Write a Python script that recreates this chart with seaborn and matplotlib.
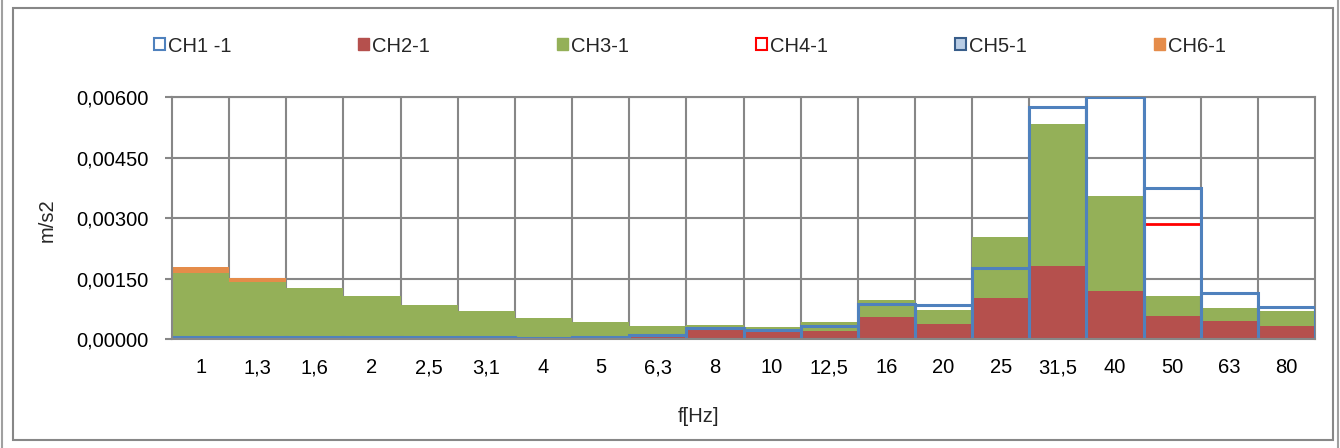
import matplotlib
matplotlib.use("Agg")
import matplotlib.pyplot as plt
from matplotlib.patches import Patch, Rectangle
from matplotlib.ticker import FuncFormatter, MultipleLocator
import numpy as np
import pandas as pd
import seaborn as sns

# third-octave bands
freqs = ["1", "1,3", "1,6", "2", "2,5", "3,1", "4", "5", "6,3", "8",
         "10", "12,5", "16", "20", "25", "31,5", "40", "50", "63", "80"]

ch1 = [0.00004, 0.00004, 0.00004, 0.00004, 0.00004, 0.00004, 0.00003, 0.00006, 0.00009, 0.00027,
       0.00022, 0.00031, 0.00087, 0.00084, 0.00177, 0.00576, 0.00600, 0.00375, 0.00113, 0.00079]
ch2 = [0.00001, 0.00001, 0.00001, 0.00001, 0.00001, 0.00001, 0.00001, 0.00002, 0.00007, 0.00023,
       0.00019, 0.00020, 0.00054, 0.00036, 0.00101, 0.00182, 0.00118, 0.00058, 0.00044, 0.00032]
ch3 = [0.00164, 0.00142, 0.00127, 0.00107, 0.00084, 0.00069, 0.00051, 0.00041, 0.00031, 0.00034,
       0.00030, 0.00041, 0.00097, 0.00072, 0.00254, 0.00534, 0.00354, 0.00107, 0.00077, 0.00070]
# only the 50 Hz band of CH4 is visible
ch4 = [np.nan] * 17 + [0.00285, np.nan, np.nan]
ch5 = [np.nan] * 20
ch6 = [0.00179, 0.00152] + [np.nan] * 18

labels = ["CH1 -1", "CH2-1", "CH3-1", "CH4-1", "CH5-1", "CH6-1"]

BLUE = "#4F81BD"
RED = "#B5504D"
GREEN = "#94B058"
ORANGE = "#E58C4A"
GRID = "#878787"

sns.set_theme(style="white")
plt.rcParams["font.family"] = ["Liberation Sans", "DejaVu Sans"]

fig = plt.figure(figsize=(13.4, 4.48), dpi=100)
ax = fig.add_axes([172 / 1340, 1 - 339 / 448, (1315 - 172) / 1340, (339 - 97) / 448])


def draw(vals, z, **kw):
    df = pd.DataFrame({"f": freqs, "v": vals}).dropna()
    if df.empty:
        return
    n = len(ax.patches)
    sns.barplot(data=df, x="f", y="v", order=freqs, width=1.0, ax=ax, errorbar=None, **kw)
    for p in ax.patches[n:]:
        p.set_zorder(z)


draw(ch6, 2, color=ORANGE, saturation=1, linewidth=0)
draw(ch3, 3, color=GREEN, saturation=1, linewidth=0)
draw(ch2, 4, color=RED, saturation=1, linewidth=0)
draw(ch5, 5, facecolor="#B9CDE5", edgecolor="#385D8A", linewidth=2)
draw(ch4, 6, fill=False, edgecolor="#FF0000", linewidth=2)
draw(ch1, 7, fill=False, edgecolor=BLUE, linewidth=2.2)

ax.set_xlim(-0.5, len(freqs) - 0.5)
ax.set_ylim(0, 0.006)
ax.yaxis.set_major_locator(MultipleLocator(0.0015))
ax.yaxis.set_major_formatter(FuncFormatter(lambda v, _: f"{v:.5f}".replace(".", ",")))

# grid: horizontal at ticks, vertical between categories
ax.set_axisbelow(True)
ax.grid(axis="y", color=GRID, linewidth=1.5)
for b in np.arange(0.5, len(freqs) - 0.5, 1):
    ax.axvline(b, color=GRID, linewidth=1.5, zorder=0.5)

for side in ["left", "bottom", "top", "right"]:
    ax.spines[side].set_color(GRID)
    ax.spines[side].set_linewidth(1.5)
ax.spines["left"].set_zorder(8)
ax.spines["bottom"].set_zorder(8)

ax.tick_params(axis="y", which="major", left=True, length=5, width=1.5, color=GRID,
               labelsize=14.5, pad=12, labelcolor="black")
ax.tick_params(axis="x", length=0, labelsize=14.5, pad=14, labelcolor="black")

ax.set_xlabel("f[Hz]", fontsize=14.5, va="center")
ax.set_ylabel("m/s2", fontsize=14.5, va="center")
ax.xaxis.set_label_coords((699 - 172) / 1143, -(416 - 339) / 242)
ax.yaxis.set_label_coords(-(172 - 47) / 1143, (339 - 220) / 242)

handles = [
    Patch(facecolor="white", edgecolor=BLUE, linewidth=1.5),
    Patch(facecolor=RED, edgecolor=RED),
    Patch(facecolor=GREEN, edgecolor=GREEN),
    Patch(facecolor="white", edgecolor="#FF0000", linewidth=1.5),
    Patch(facecolor="#B9CDE5", edgecolor="#385D8A", linewidth=1.5),
    Patch(facecolor=ORANGE, edgecolor=ORANGE),
]
fig.legend(handles, labels, loc="center", bbox_to_anchor=(690 / 1340, 1 - 46 / 448), ncol=6,
           frameon=False, fontsize=14.5, handlelength=0.55, handleheight=0.55,
           handletextpad=0.15, columnspacing=6.3)

# chart frame and sheet edges
fig.patches.append(Rectangle((13 / 1340, 1 - 440 / 448), (1333 - 13) / 1340, (440 - 8) / 448,
                             transform=fig.transFigure, fill=False, edgecolor=GRID, linewidth=1.5))
fig.patches.append(Rectangle((1.5 / 1340, -0.01), (1337.5 - 1.5) / 1340, 1.02,
                             transform=fig.transFigure, fill=False, edgecolor="#A0A0A0", linewidth=1.5))

fig.savefig("out.png", dpi=100, facecolor="white")
